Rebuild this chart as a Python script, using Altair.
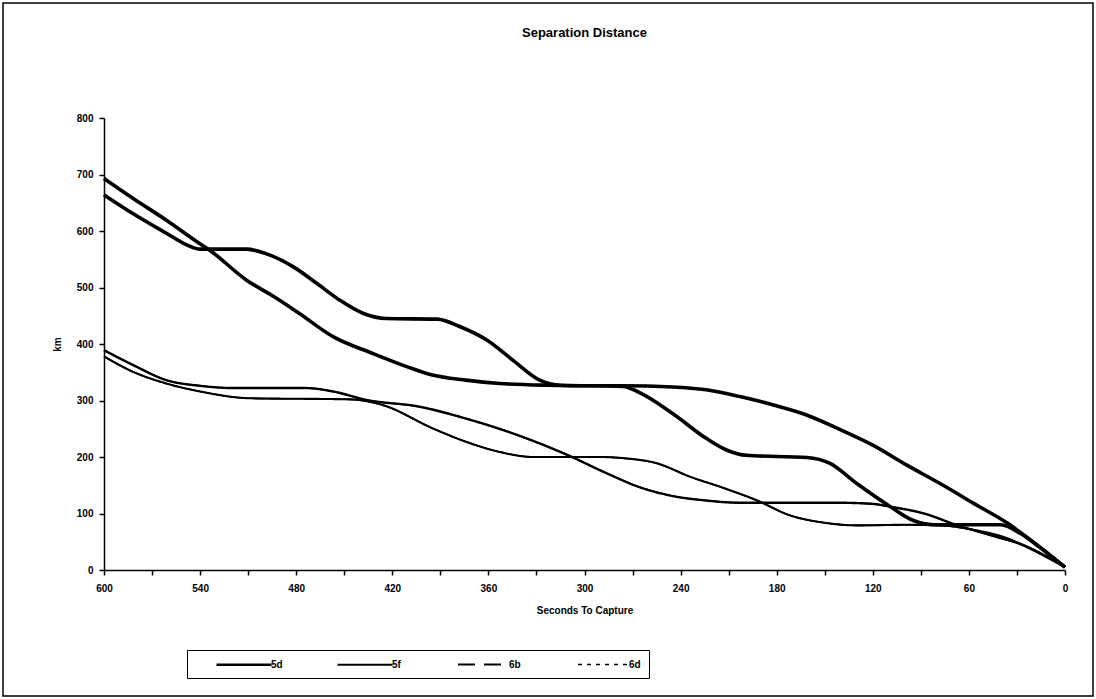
import altair as alt
import pandas as pd

# ---- data ----
SERIES = ["5d", "5f", "6b", "6d"]
TITLE = "Separation Distance"

T_5D = [600, 582, 561, 540, 519, 474, 457, 436, 403, 374, 342, 311, 286, 265, 245, 224, 203, 182, 141, 120, 109, 88, 68, 47, 26, 0]
V_5D = [389, 363, 336, 326, 322, 322, 316, 301, 289, 268, 239, 204, 171, 146, 131, 123, 119, 119, 119, 117, 112, 100, 80, 62, 44, 5]

T_5F = [600, 582, 561, 540, 509, 446, 426, 395, 374, 353, 332, 290, 276, 255, 234, 213, 193, 172, 151, 130, 99, 78, 57, 36, 22, 0]
V_5F = [378, 351, 330, 316, 304, 302, 292, 251, 227, 209, 200, 200, 198, 189, 165, 145, 124, 97, 84, 79, 80, 79, 71, 56, 38, 5]

T_6B = [600, 582, 561, 542, 534, 511, 494, 478, 457, 432, 411, 395, 374, 353, 324, 290, 276, 245, 224, 203, 182, 161, 140, 120, 99, 78, 57, 36, 16, 0]
V_6B = [693, 658, 619, 581, 566, 513, 484, 454, 413, 383, 360, 345, 336, 330, 327, 326, 326, 324, 319, 307, 292, 274, 248, 221, 186, 153, 118, 83, 41, 5]

T_6D = [600, 582, 561, 548, 540, 511, 499, 482, 467, 453, 438, 424, 392, 378, 361, 345, 328, 315, 276, 265, 245, 224, 211, 199, 161, 147, 130, 109, 95, 82, 40, 28, 16, 0]
V_6D = [664, 631, 596, 575, 568, 568, 560, 537, 507, 478, 454, 445, 444, 431, 407, 372, 336, 327, 325, 313, 277, 233, 212, 203, 199, 189, 153, 112, 88, 80, 80, 65, 41, 5]

X_TICKS = [i * 7.5 for i in range(81)]
Y_TICKS = [i * 50 for i in range(17)]

rows = []
for name, ts, vs in [("5d", T_5D, V_5D), ("5f", T_5F, V_5F), ("6b", T_6B, V_6B), ("6d", T_6D, V_6D)]:
    for t, v in zip(ts, vs):
        rows.append({"series": name, "t": t, "km": v})
df = pd.DataFrame(rows)

W, H = 961, 452
FONT = "Liberation Sans"

x_enc = alt.X(
    "t:Q",
    title="Seconds To Capture",
    scale=alt.Scale(domain=[0, 600], reverse=True, nice=False, zero=False),
    axis=alt.Axis(
        values=X_TICKS,
        labelExpr="datum.value % 60 == 0 ? format(datum.value, 'd') : ''",
        tickSize={"condition": {"test": "datum.value % 15 == 0", "value": 5}, "value": 3},
        labelPadding=8,
        titlePadding=12,
        grid=False,
        labelFlush=False,
        labelOverlap=False,
    ),
)
y_enc = alt.Y(
    "km:Q",
    title="km",
    scale=alt.Scale(domain=[0, 800], nice=False),
    axis=alt.Axis(
        values=Y_TICKS,
        labelExpr="datum.value % 100 == 0 ? format(datum.value, 'd') : ''",
        tickSize={"condition": {"test": "datum.value % 100 == 0", "value": 5}, "value": 3},
        labelPadding=6,
        titlePadding=14,
        grid=False,
        labelOverlap=False,
    ),
)

leg = alt.Legend(
    orient="none",
    legendX=83,
    legendY=532,
    direction="horizontal",
    title=None,
    strokeColor="black",
    padding=8,
    symbolType="M-9,0H2",
    symbolSize=100,
    symbolStrokeColor="black",
    symbolDashOffset=-3,
    labelFont=FONT,
    labelFontSize=10,
    labelFontWeight="bold",
    labelOffset=3,
    columnPadding=33,
    symbolOffset=60,
)

base = alt.Chart(df)

legend_layer = base.mark_line(interpolate="monotone", color="black").encode(
    x=x_enc,
    y=y_enc,
    strokeDash=alt.StrokeDash(
        "series:N",
        scale=alt.Scale(domain=SERIES, range=[[1, 0], [1, 0], [17, 9], [4, 5]]),
        legend=leg,
    ),
    strokeWidth=alt.StrokeWidth(
        "series:N",
        scale=alt.Scale(domain=SERIES, range=[2.4, 1.5, 3.5, 2.5]),
        legend=leg,
    ),
)

thin = base.transform_filter(
    alt.FieldOneOfPredicate(field="series", oneOf=["5d", "5f"])
).mark_line(interpolate="monotone", color="black", strokeWidth=1.6).encode(
    x="t:Q", y="km:Q", detail="series:N"
)

thick = base.transform_filter(
    alt.FieldOneOfPredicate(field="series", oneOf=["6b", "6d"])
).mark_line(interpolate="monotone", color="black", strokeWidth=3.6).encode(
    x="t:Q", y="km:Q", detail="series:N"
)

one = pd.DataFrame({"a": [0]})

frame = alt.Chart(one).mark_rect(
    fill=None, stroke="black", strokeWidth=1.5, clip=False
).encode(
    x=alt.value(-101), x2=alt.value(W + 28), y=alt.value(-115), y2=alt.value(H + 126)
)

title = alt.Chart(one).mark_text(
    font=FONT, fontSize=13, fontWeight="bold", color="black", align="center", baseline="middle"
).encode(
    x=alt.value(W / 2), y=alt.value(-85), text=alt.value(TITLE)
)

chart = alt.layer(frame, title, legend_layer, thin, thick).properties(
    width=W,
    height=H,
    padding={"left": 2, "top": 2, "right": 2, "bottom": 2},
    background="white",
).configure_view(stroke=None).configure_axis(
    domainColor="black",
    domainWidth=1.5,
    tickColor="black",
    tickWidth=1.5,
    labelFont=FONT,
    labelFontSize=10,
    labelFontWeight="bold",
    labelColor="black",
    titleFont=FONT,
    titleFontSize=10,
    titleFontWeight="bold",
    titleColor="black",
)

chart.save("out.html", embed_options={"renderer": "svg", "actions": False})
